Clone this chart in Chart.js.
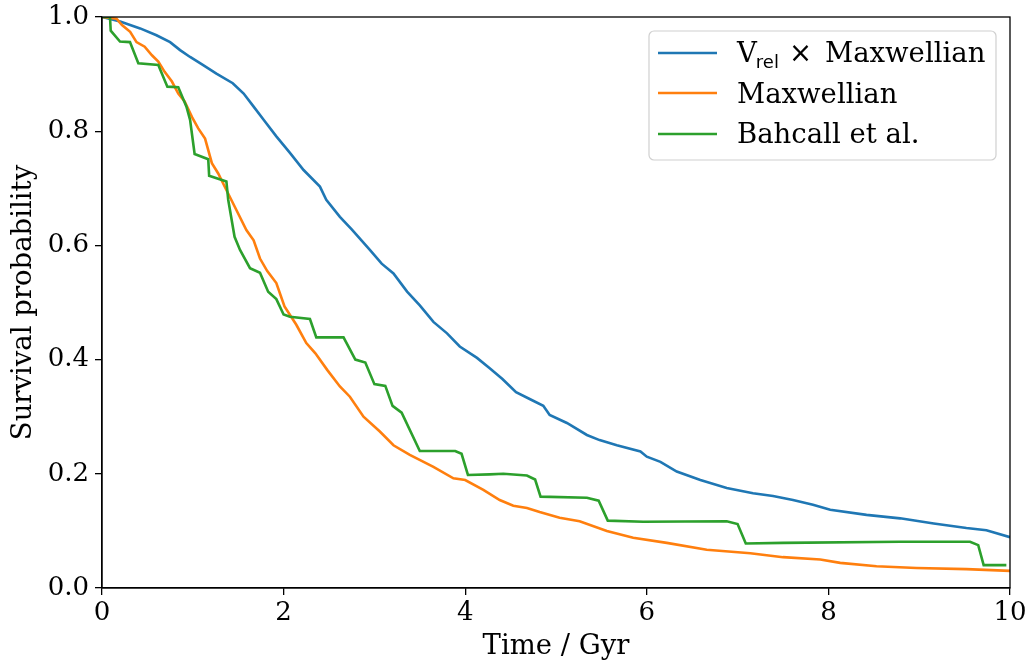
<!DOCTYPE html>
<html>
<head>
<meta charset="utf-8">
<script src="https://cdn.jsdelivr.net/npm/chart.js@4"></script>
<style>
  html, body { margin: 0; padding: 0; background: #fff; }
  #wrap { width: 1029px; height: 668px; }
</style>
</head>
<body>
<div id="wrap"><canvas id="chart" width="1029" height="668"></canvas></div>
<script>
// Vrel x Maxwellian
const timeVrel = [0, 0.2, 0.42, 0.6, 0.75, 0.86, 0.97, 1.11, 1.26, 1.44, 1.56, 1.67, 1.78, 1.92, 2.07, 2.22, 2.4, 2.47, 2.62, 2.75, 2.85, 2.95, 3.08, 3.21, 3.36, 3.5, 3.65, 3.8, 3.94, 4.13, 4.27, 4.41, 4.56, 4.71, 4.86, 4.93, 5.12, 5.34, 5.48, 5.67, 5.93, 6.0, 6.15, 6.33, 6.59, 6.88, 7.17, 7.39, 7.61, 7.83, 8.02, 8.42, 8.79, 9.16, 9.52, 9.74, 10.0];
const survVrel = [1.0, 0.992, 0.98, 0.968, 0.956, 0.942, 0.93, 0.916, 0.901, 0.884, 0.866, 0.843, 0.82, 0.791, 0.762, 0.732, 0.703, 0.68, 0.65, 0.628, 0.61, 0.592, 0.568, 0.551, 0.519, 0.495, 0.466, 0.446, 0.423, 0.403, 0.385, 0.366, 0.343, 0.331, 0.319, 0.303, 0.289, 0.268, 0.259, 0.25, 0.239, 0.23, 0.221, 0.204, 0.189, 0.175, 0.166, 0.161, 0.154, 0.146, 0.137, 0.128, 0.122, 0.113, 0.105, 0.101, 0.089];

// Maxwellian
const timeMax = [0, 0.16, 0.22, 0.31, 0.38, 0.47, 0.55, 0.62, 0.69, 0.77, 0.84, 0.91, 0.99, 1.06, 1.135, 1.21, 1.28, 1.37, 1.48, 1.59, 1.67, 1.74, 1.82, 1.92, 2.01, 2.14, 2.25, 2.35, 2.48, 2.62, 2.73, 2.88, 3.06, 3.21, 3.39, 3.65, 3.87, 4.0, 4.2, 4.38, 4.53, 4.68, 4.82, 5.04, 5.26, 5.56, 5.85, 6.22, 6.66, 7.14, 7.5, 7.91, 8.13, 8.53, 8.97, 9.52, 10.0];
const survMax = [1.0, 0.997, 0.986, 0.974, 0.956, 0.948, 0.933, 0.922, 0.904, 0.887, 0.866, 0.852, 0.825, 0.805, 0.787, 0.744, 0.726, 0.697, 0.662, 0.627, 0.609, 0.577, 0.555, 0.534, 0.493, 0.461, 0.429, 0.411, 0.382, 0.353, 0.335, 0.30, 0.274, 0.25, 0.233, 0.212, 0.192, 0.189, 0.172, 0.154, 0.144, 0.14, 0.133, 0.123, 0.117, 0.1, 0.088, 0.079, 0.067, 0.061, 0.054, 0.05, 0.044, 0.038, 0.035, 0.033, 0.03];

// Bahcall et al.
const timeBah = [0, 0.088, 0.096, 0.198, 0.308, 0.40, 0.62, 0.72, 0.84, 0.93, 0.97, 1.02, 1.17, 1.18, 1.37, 1.39, 1.46, 1.52, 1.63, 1.74, 1.83, 1.92, 2.0, 2.07, 2.29, 2.36, 2.66, 2.79, 2.9, 3.0, 3.12, 3.2, 3.3, 3.5, 3.89, 3.96, 4.03, 4.27, 4.42, 4.68, 4.77, 4.83, 5.34, 5.47, 5.57, 5.96, 6.88, 7.0, 7.09, 7.5, 8.79, 9.56, 9.65, 9.71, 9.96];
const survBah = [1.0, 1.0, 0.976, 0.957, 0.956, 0.919, 0.916, 0.878, 0.877, 0.843, 0.82, 0.76, 0.751, 0.722, 0.712, 0.68, 0.615, 0.592, 0.56, 0.552, 0.519, 0.506, 0.479, 0.475, 0.471, 0.439, 0.439, 0.40, 0.395, 0.357, 0.354, 0.319, 0.307, 0.24, 0.24, 0.235, 0.198, 0.199, 0.2, 0.197, 0.19, 0.16, 0.158, 0.153, 0.118, 0.116, 0.117, 0.112, 0.078, 0.079, 0.081, 0.081, 0.075, 0.04, 0.04];

const xTicks = [0, 2, 4, 6, 8, 10];
const yTicks = [0.0, 0.2, 0.4, 0.6, 0.8, 1.0];

const serif = "'DejaVu Serif', serif";
const sans = "'DejaVu Sans', sans-serif";
const TICK_FS = 26;
const LABEL_FS = 27.5;

function pts(xs, ys) {
  return xs.map((x, i) => ({x: x, y: ys[i]}));
}

// frame on all four sides like matplotlib
const framePlugin = {
  id: 'frame',
  afterDatasetsDraw(chart) {
    const {ctx, chartArea: a} = chart;
    ctx.save();
    ctx.strokeStyle = '#000';
    ctx.lineWidth = 1.3;
    ctx.strokeRect(a.left, a.top, a.right - a.left, a.bottom - a.top);
    ctx.restore();
  }
};

// legend box drawn by hand (needs the subscript)
const legendPlugin = {
  id: 'boxLegend',
  afterDraw(chart) {
    const ctx = chart.ctx;
    const bx = 649, by = 31, bw = 347, bh = 129, r = 5;
    ctx.save();
    ctx.beginPath();
    ctx.moveTo(bx + r, by);
    ctx.arcTo(bx + bw, by, bx + bw, by + bh, r);
    ctx.arcTo(bx + bw, by + bh, bx, by + bh, r);
    ctx.arcTo(bx, by + bh, bx, by, r);
    ctx.arcTo(bx, by, bx + bw, by, r);
    ctx.closePath();
    ctx.fillStyle = 'rgba(255,255,255,0.8)';
    ctx.fill();
    ctx.strokeStyle = '#d0d0d0';
    ctx.lineWidth = 1.2;
    ctx.stroke();

    const rows = [53, 93, 134];
    chart.data.datasets.forEach((ds, i) => {
      ctx.strokeStyle = ds.borderColor;
      ctx.lineWidth = ds.borderWidth;
      ctx.beginPath();
      ctx.moveTo(658, rows[i]);
      ctx.lineTo(717, rows[i]);
      ctx.stroke();
    });

    ctx.fillStyle = '#000';
    ctx.textBaseline = 'alphabetic';
    ctx.textAlign = 'left';
    const base = [62, 103, 143];
    ctx.font = LABEL_FS + 'px ' + serif;
    ctx.fillText('V', 737, base[0]);
    const vw = ctx.measureText('V').width;
    ctx.font = '18px ' + sans;
    ctx.fillText('rel', 737 + vw - 1, base[0] + 6);
    ctx.font = LABEL_FS + 'px ' + sans;
    ctx.fillText('\u00d7', 789, base[0]);
    ctx.font = LABEL_FS + 'px ' + serif;
    ctx.fillText('Maxwellian', 825, base[0]);
    ctx.fillText('Maxwellian', 737, base[1]);
    ctx.fillText('Bahcall et al.', 737, base[2]);
    ctx.restore();
  }
};

new Chart(document.getElementById('chart'), {
  type: 'line',
  data: {
    datasets: [
      {label: 'Vrel \u00d7 Maxwellian', data: pts(timeVrel, survVrel), borderColor: '#1f77b4', borderWidth: 2.6, order: 3},
      {label: 'Maxwellian', data: pts(timeMax, survMax), borderColor: '#ff7f0e', borderWidth: 2.6, order: 2},
      {label: 'Bahcall et al.', data: pts(timeBah, survBah), borderColor: '#2ca02c', borderWidth: 2.6, order: 1}
    ]
  },
  options: {
    responsive: false,
    animation: false,
    events: [],
    layout: {padding: {top: 17, right: 19, left: 1, bottom: 0}},
    elements: {point: {radius: 0}, line: {tension: 0, fill: false}},
    plugins: {legend: {display: false}, tooltip: {enabled: false}},
    scales: {
      x: {
        type: 'linear',
        min: 0, max: 10,
        afterFit(s) { s.height = 80; s.paddingLeft = 0; s.paddingRight = 0; },
        afterBuildTicks(s) { s.ticks = xTicks.map(v => ({value: v})); },
        grid: {drawOnChartArea: false, drawTicks: true, tickLength: 7, color: '#000', lineWidth: 1.3},
        border: {display: true, color: '#000', width: 1.3},
        ticks: {color: '#000', font: {family: serif, size: TICK_FS}, padding: 3, maxRotation: 0,
                callback: v => String(v)},
        title: {display: true, text: 'Time / Gyr', color: '#000', font: {family: serif, size: LABEL_FS}, padding: {top: 0, bottom: 5}}
      },
      y: {
        min: 0, max: 1,
        afterFit(s) { s.width = 101; s.paddingTop = 0; s.paddingBottom = 0; },
        afterBuildTicks(s) { s.ticks = yTicks.map(v => ({value: v})); },
        grid: {drawOnChartArea: false, drawTicks: true, tickLength: 7, color: '#000', lineWidth: 1.3},
        border: {display: true, color: '#000', width: 1.3},
        ticks: {color: '#000', font: {family: serif, size: TICK_FS}, padding: 6,
                callback: v => Number(v).toFixed(1)},
        title: {display: true, text: 'Survival probability', color: '#000', font: {family: serif, size: LABEL_FS}, padding: {top: 6, bottom: 0}}
      }
    }
  },
  plugins: [framePlugin, legendPlugin]
});
</script>
</body>
</html>
